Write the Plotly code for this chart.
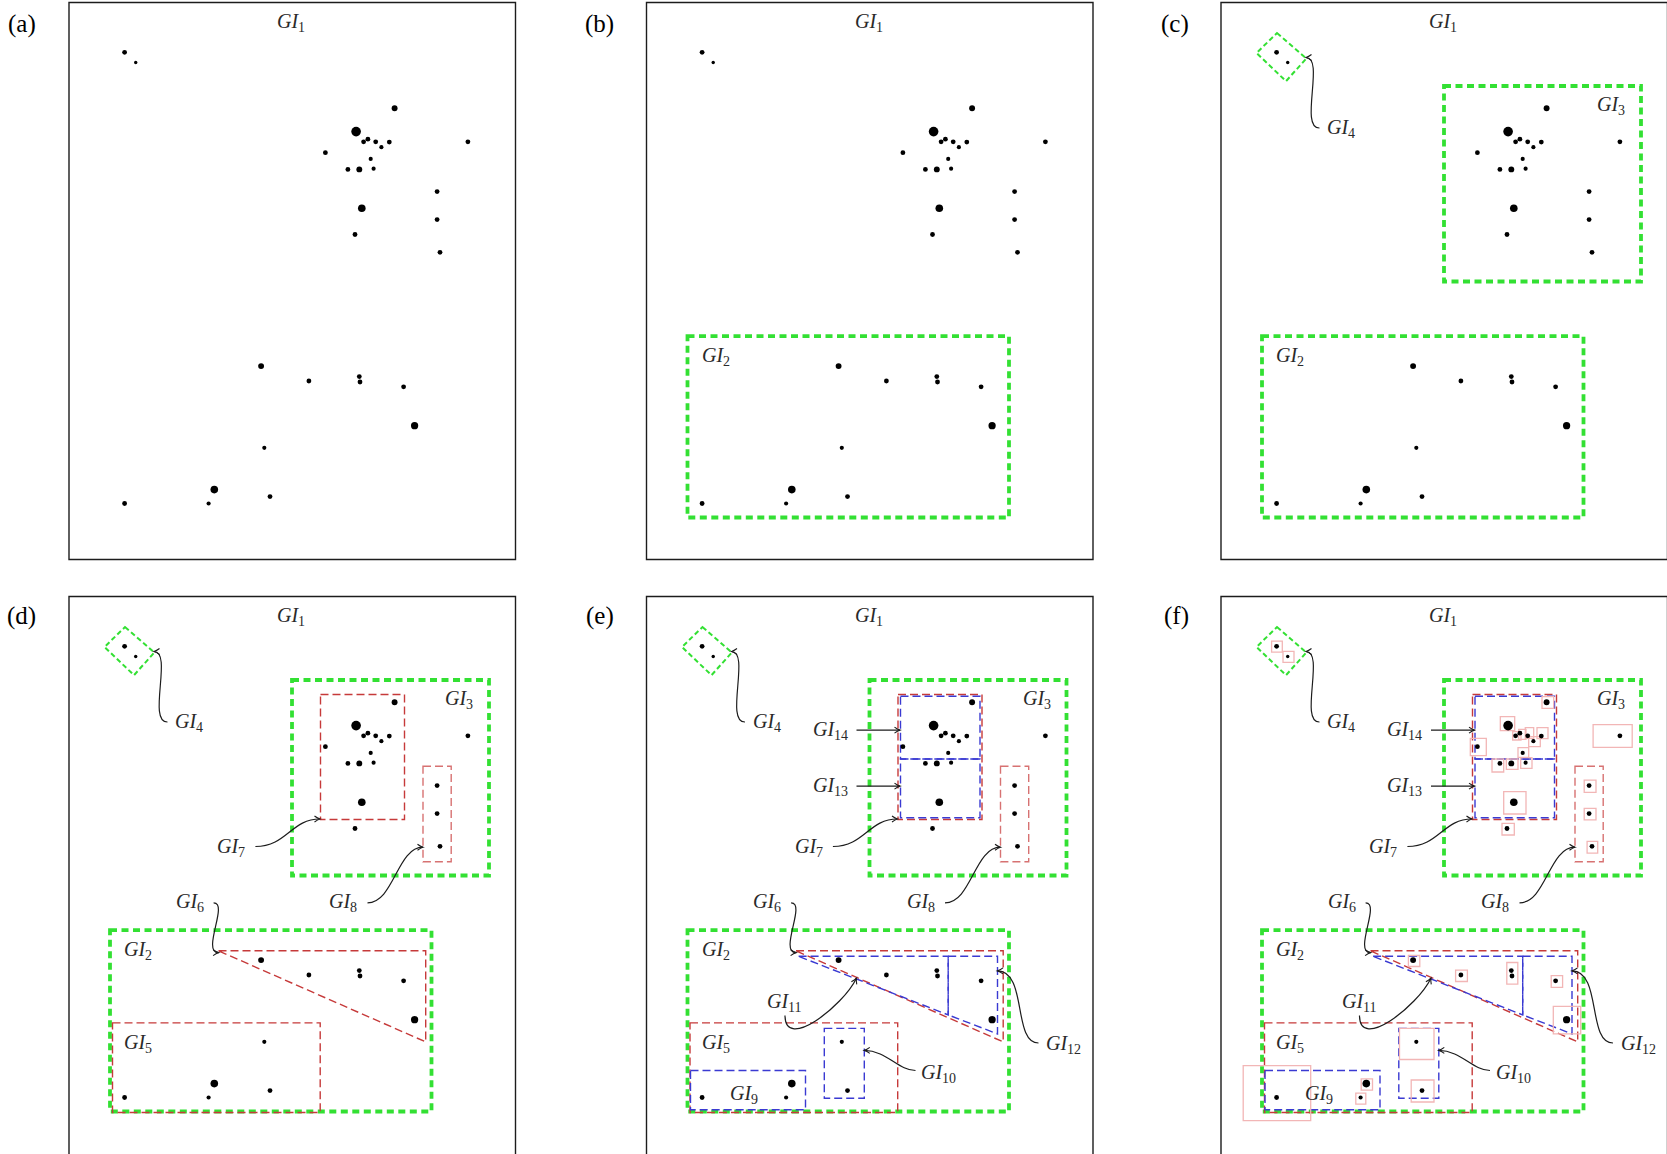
import math
import plotly.graph_objects as go

FIG_W, FIG_H = 1667, 1154

# ---------------------------------------------------------------------------
# Point set (panel units: origin at a panel's top-left corner, y pointing down)
pt_x = [55.6, 66.7, 325.6, 287.1, 294.6, 298.9, 306.7, 312.4, 320.3, 398.9,
        256.4, 301.7, 278.9, 290.3, 304.6, 368.1, 292.8, 368.1, 286.0, 371.0,
        192.1, 239.9, 290.3, 291.0, 334.6, 345.6, 195.3, 145.3, 201.0, 55.6,
        139.6]
pt_y = [49.8, 60.0, 105.8, 129.1, 139.3, 136.7, 139.3, 144.7, 139.6, 139.3,
        150.2, 156.4, 166.9, 166.9, 166.2, 189.1, 205.8, 217.1, 232.0, 249.8,
        363.6, 378.5, 374.1, 379.5, 384.3, 423.2, 445.3, 487.1, 494.1, 501.0,
        501.0]
pt_mass = [2, 1, 3, 8, 2, 2, 2, 1.5, 2, 2,
           2, 1.5, 2, 3, 1.5, 2, 5, 2, 2, 2,
           3, 2, 2, 2, 2, 4.5, 1.5, 5, 2, 2,
           1.5]

# ---------------------------------------------------------------------------
# Panels
panel_tags = ["(a)", "(b)", "(c)", "(d)", "(e)", "(f)"]
panel_left = [69.0, 646.5, 1221.0, 69.0, 646.5, 1221.0]
panel_top = [2.5, 2.5, 2.5, 596.5, 596.5, 596.5]
panel_tag_x = [22.0, 599.0, 1175.0, 21.5, 599.5, 1176.5]
panel_tag_y = [24.0, 24.0, 24.0, 615.5, 615.5, 615.5]
PANEL_W, PANEL_H = 446.5, 557.0

# ---------------------------------------------------------------------------
# Nested group regions: outline vertices and the first panel (0 = a) showing them
region_id = [2, 3, 4, 5, 6, 7, 8, 9, 10, 11, 12, 13, 14]
region_first = [1, 2, 2, 3, 3, 3, 3, 4, 4, 4, 4, 4, 4]
region_kind = ["green", "green", "green_thin", "red", "red", "red", "rose",
               "blue", "blue", "blue", "blue", "blue", "blue"]
region_xs = [
    [41.0, 362.5, 362.5, 41.0],
    [223.0, 420.0, 420.0, 223.0],
    [56.0, 85.3, 65.0, 35.5],
    [43.5, 251.2, 251.2, 43.5],
    [149.5, 356.7, 356.7],
    [251.5, 335.5, 335.5, 251.5],
    [354.0, 382.2, 382.2, 354.0],
    [44.0, 159.0, 159.0, 44.0],
    [177.8, 217.8, 217.8, 177.8],
    [152.1, 301.7, 301.7],
    [301.7, 351.0, 351.0, 301.7],
    [254.0, 333.5, 333.5, 254.0],
    [254.0, 333.5, 333.5, 254.0],
]
region_ys = [
    [333.7, 333.7, 515.0, 515.0],
    [83.5, 83.5, 279.0, 279.0],
    [30.5, 56.0, 78.7, 50.5],
    [426.4, 426.4, 516.0, 516.0],
    [354.3, 354.3, 445.4],
    [98.0, 98.0, 223.0, 223.0],
    [169.8, 169.8, 265.3, 265.3],
    [474.0, 474.0, 513.2, 513.2],
    [431.9, 431.9, 501.8, 501.8],
    [359.8, 359.8, 418.4],
    [359.8, 359.8, 437.4, 418.4],
    [162.5, 162.5, 221.2, 221.2],
    [99.7, 99.7, 162.5, 162.5],
]

# Leaf cells around single points (last panel only)
cell_x0 = [50.6, 62.0, 321.0, 279.3, 291.7, 297.7, 304.3, 307.7, 316.0, 372.1,
           249.3, 297.0, 271.0, 285.3, 299.7, 363.2, 282.7, 363.2, 281.0, 366.1,
           187.4, 234.6, 285.8, 330.2, 332.3, 178.5, 190.2, 140.2, 134.8, 22.2]
cell_y0 = [44.6, 54.9, 100.2, 120.2, 135.2, 132.8, 131.2, 140.2, 131.2, 128.1,
           141.8, 151.2, 162.5, 162.5, 161.2, 183.7, 195.2, 211.9, 226.8, 244.8,
           359.0, 373.7, 366.0, 379.2, 409.9, 431.9, 483.5, 482.4, 496.7, 469.2]
cell_x1 = [61.3, 73.0, 332.7, 293.7, 300.0, 305.0, 312.7, 319.3, 327.0, 411.2,
           265.3, 307.7, 282.7, 297.0, 311.0, 375.0, 305.0, 375.0, 293.3, 376.7,
           198.8, 246.4, 296.8, 341.6, 359.7, 213.0, 213.0, 151.5, 144.8, 89.7]
cell_y1 = [55.6, 65.9, 111.8, 134.2, 143.5, 142.8, 141.8, 150.2, 142.2, 150.8,
           159.2, 160.8, 175.5, 172.8, 171.8, 195.8, 217.5, 223.3, 238.5, 256.6,
           370.0, 385.0, 387.6, 390.9, 437.4, 463.0, 505.5, 493.7, 507.7, 524.1]

# Group labels
label_id = [1, 2, 3, 4, 5, 6, 7, 8, 9, 10, 11, 12, 13, 14]
label_x = [222.0, 69.0, 390.0, 120.0, 69.0, 120.5, 162.0, 274.0, 97.5, 292.0,
           138.0, 417.0, 183.5, 183.5]
label_y = [20.0, 354.0, 102.7, 125.5, 446.5, 306.3, 250.7, 306.3, 497.8, 477.0,
           405.5, 448.4, 189.6, 133.6]
label_first = [0, 1, 2, 2, 3, 3, 3, 3, 4, 4, 4, 4, 4, 4]

# Leader curves (cubic Bezier: start, two control points, arrow tip)
arrow_first = [2, 3, 3, 3, 4, 4, 4, 4, 4]
arrow_p0 = [(98.5, 125.5), (144.6, 306.3), (186.4, 250.0), (298.5, 306.3),
            (269.0, 474.0), (138.5, 419.0), (392.0, 446.5), (210.0, 189.6),
            (210.0, 133.6)]
arrow_p1 = [(78.0, 126.0), (160.0, 306.3), (218.0, 250.0), (325.0, 306.3),
            (252.0, 474.0), (138.5, 455.0), (366.0, 446.5), (210.0, 189.6),
            (210.0, 133.6)]
arrow_p2 = [(104.0, 55.0), (132.0, 356.1), (222.0, 222.5), (328.0, 250.7),
            (240.0, 453.9), (196.0, 410.0), (381.0, 374.4), (253.5, 189.6),
            (253.5, 133.6)]
arrow_p3 = [(85.0, 55.0), (149.6, 356.1), (251.0, 222.5), (354.0, 250.7),
            (217.8, 453.9), (210.0, 381.7), (351.0, 374.4), (253.5, 189.6),
            (253.5, 133.6)]

# ---------------------------------------------------------------------------
STYLE = {
    "green": dict(color="#33e033", width=3.8, dash="7px,4.5px"),
    "green_thin": dict(color="#33e033", width=2.0, dash="5px,3px"),
    "red": dict(color="#c63a3a", width=1.4, dash="8px,4px"),
    "rose": dict(color="#d77272", width=1.4, dash="8px,4px"),
    "blue": dict(color="#3a3ad2", width=1.4, dash="8px,4px"),
}
CELL_LINE = dict(color="#f2b6b6", width=1.3)
INK = "#1c1c1c"
SERIF = "Liberation Serif"


def axis_names(i):
    return ("x" if i == 0 else f"x{i + 1}"), ("y" if i == 0 else f"y{i + 1}")


def poly_path(xs, ys):
    pts = " L".join(f"{x:.2f},{y:.2f}" for x, y in zip(xs, ys))
    return f"M{pts} Z"


def arrow_head(tip, frm, length=5.5, half=3.0):
    dx, dy = tip[0] - frm[0], tip[1] - frm[1]
    n = math.hypot(dx, dy)
    ux, uy = dx / n, dy / n
    px, py = -uy, ux
    bx, by = tip[0] - length * ux, tip[1] - length * uy
    mx, my = tip[0] - 0.45 * length * ux, tip[1] - 0.45 * length * uy
    return (f"M{bx + half * px:.2f},{by + half * py:.2f} "
            f"Q{mx + 0.25 * half * px:.2f},{my + 0.25 * half * py:.2f} {tip[0]:.2f},{tip[1]:.2f} "
            f"Q{mx - 0.25 * half * px:.2f},{my - 0.25 * half * py:.2f} "
            f"{bx - half * px:.2f},{by - half * py:.2f}")


fig = go.Figure()
shapes, annotations = [], []
layout = dict(width=FIG_W, height=FIG_H, margin=dict(l=0, r=0, t=0, b=0),
              paper_bgcolor="white", plot_bgcolor="white", showlegend=False)

for i in range(6):
    xr, yr = axis_names(i)
    L, T = panel_left[i], panel_top[i]
    x0px, x1px = L - 4, min(L + PANEL_W + 4, FIG_W)
    y0px, y1px = max(T - 4, 0), min(T + PANEL_H + 3, FIG_H)
    key = "" if i == 0 else str(i + 1)
    layout["xaxis" + key] = dict(domain=[x0px / FIG_W, x1px / FIG_W],
                                 range=[x0px - L, x1px - L], visible=False,
                                 anchor=yr, fixedrange=True)
    layout["yaxis" + key] = dict(domain=[1 - y1px / FIG_H, 1 - y0px / FIG_H],
                                 range=[y1px - T, y0px - T], visible=False,
                                 anchor=xr, fixedrange=True)

    # panel frame (lower row and right column run past the page edge)
    frame_h = PANEL_H if i < 3 else PANEL_H + 30
    shapes.append(dict(type="rect", xref=xr, yref=yr, x0=0, y0=0,
                       x1=PANEL_W, y1=frame_h, layer="below",
                       line=dict(color=INK, width=1.4)))

    # regions
    for kind in ["green", "green_thin", "red", "rose", "blue"]:
        for r in range(len(region_id)):
            if region_kind[r] != kind or region_first[r] > i:
                continue
            shapes.append(dict(type="path", xref=xr, yref=yr, layer="below",
                               path=poly_path(region_xs[r], region_ys[r]),
                               line=STYLE[kind]))

    # leaf cells
    if i == 5:
        for c in range(len(cell_x0)):
            shapes.append(dict(type="rect", xref=xr, yref=yr, layer="below",
                               x0=cell_x0[c], y0=cell_y0[c],
                               x1=cell_x1[c], y1=cell_y1[c], line=CELL_LINE))

    # leader curves with arrow tips
    for a in range(len(arrow_p0)):
        if arrow_first[a] > i:
            continue
        p0, p1, p2, p3 = arrow_p0[a], arrow_p1[a], arrow_p2[a], arrow_p3[a]
        shapes.append(dict(type="path", xref=xr, yref=yr, layer="above",
                           path=(f"M{p0[0]},{p0[1]} C{p1[0]},{p1[1]} "
                                 f"{p2[0]},{p2[1]} {p3[0]},{p3[1]}"),
                           line=dict(color=INK, width=1.2)))
        frm = p2 if p2 != p3 else p0
        shapes.append(dict(type="path", xref=xr, yref=yr, layer="above",
                           path=arrow_head(p3, frm),
                           line=dict(color=INK, width=1.1)))

    # points (solid black, sized by mass)
    fig.add_trace(go.Scatter(
        x=pt_x, y=pt_y, mode="markers", xaxis=xr, yaxis=yr, hoverinfo="skip",
        marker=dict(color="black", opacity=1.0,
                    size=[3.4 * math.sqrt(m) for m in pt_mass],
                    line=dict(width=0))))

    # labels
    for k in range(len(label_id)):
        if label_first[k] > i:
            continue
        annotations.append(dict(
            xref=xr, yref=yr, x=label_x[k], y=label_y[k], showarrow=False,
            xanchor="center", yanchor="middle",
            text=f"<i>GI</i><sub>{label_id[k]}</sub>",
            font=dict(family=SERIF, size=20, color="#2a2a2a")))

    annotations.append(dict(
        xref="paper", yref="paper", x=panel_tag_x[i] / FIG_W,
        y=1 - panel_tag_y[i] / FIG_H, showarrow=False, xanchor="center",
        yanchor="middle", text=panel_tags[i],
        font=dict(family=SERIF, size=25, color="black")))

layout["shapes"] = shapes
layout["annotations"] = annotations
fig.update_layout(**layout)
fig.write_html("out.html")
